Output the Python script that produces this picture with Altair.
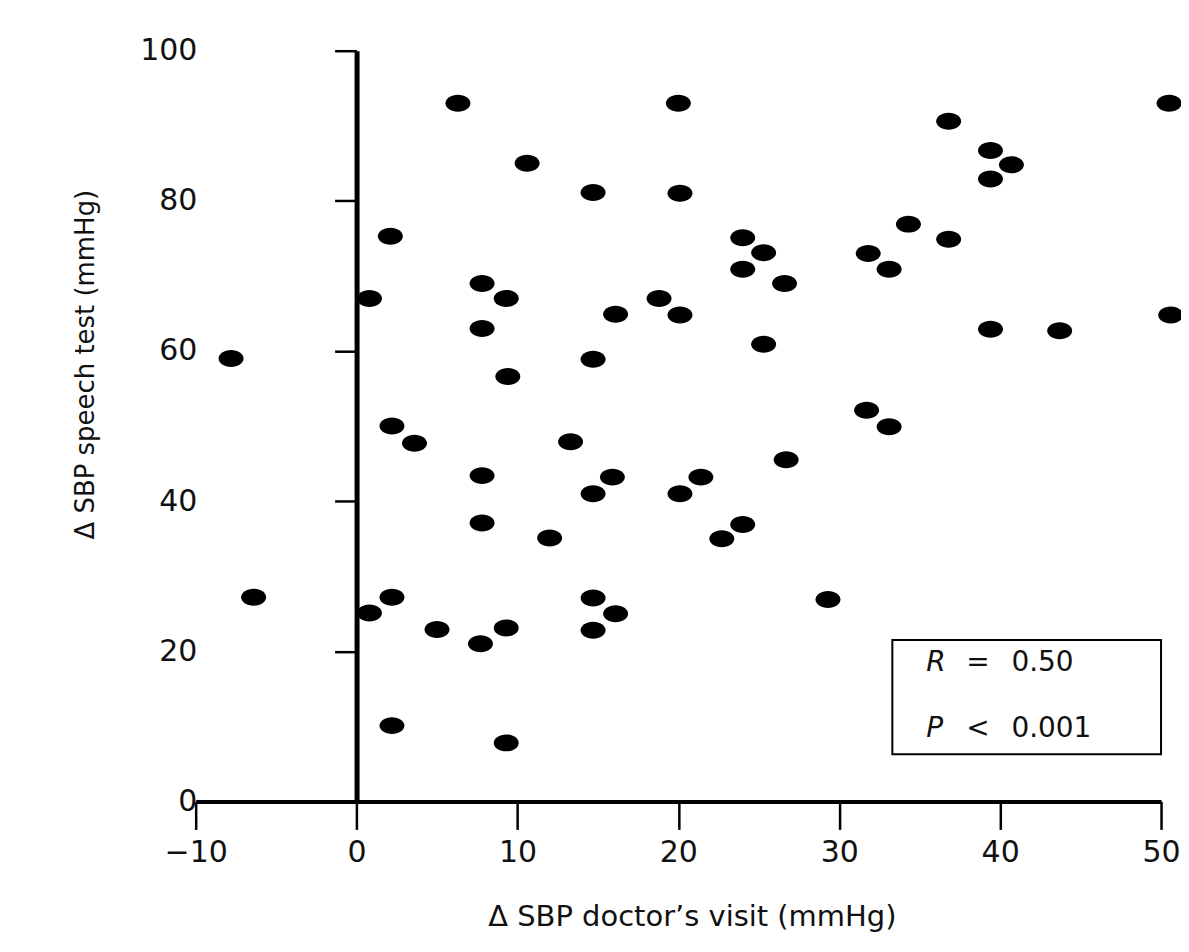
import altair as alt
import pandas as pd

# Δ SBP doctor's visit (mmHg)
doctor = [6.3, 20.0, 50.5, 36.8, 10.6, 39.4, 40.7, 39.4, 14.7, 20.1,
          34.3, 2.1, 24.0, 36.8, 25.3, 24.0, 31.8, 33.1, 26.6, 0.8,
          7.8, 9.3, 18.8, 16.1, 20.1, 7.8, 25.3, 39.4, 43.7, 50.6,
          -7.8, 9.4, 14.7, 2.2, 3.6, 13.3, 31.7, 33.1, 7.8, 26.7,
          15.9, 14.7, 21.4, 20.1, 7.8, 12.0, 24.0, 22.7, -6.4, 2.2,
          14.7, 29.3, 0.8, 5.0, 9.3, 14.7, 16.1, 7.7, 2.2, 9.3]
# Δ SBP speech test (mmHg)
speech = [93.0, 93.0, 93.0, 90.6, 85.0, 86.7, 84.8, 82.9, 81.1, 81.0,
          76.9, 75.3, 75.1, 74.9, 73.1, 70.9, 73.0, 70.9, 69.0, 67.0,
          69.0, 67.0, 67.0, 64.9, 64.8, 63.0, 60.9, 62.9, 62.7, 64.8,
          59.0, 56.6, 58.9, 50.0, 47.7, 47.9, 52.1, 49.9, 43.4, 45.5,
          43.2, 41.0, 43.2, 41.0, 37.1, 35.1, 36.9, 35.0, 27.2, 27.2,
          27.1, 26.9, 25.1, 22.9, 23.1, 22.8, 25.0, 21.0, 10.1, 7.8]

x_ticks = [-10, 0, 10, 20, 30, 40, 50]
y_ticks = [0, 20, 40, 60, 80, 100]

# annotation box with statistics
box = pd.DataFrame({"x1": [33.3], "x2": [50.0], "y1": [6.3], "y2": [21.5]})
ann_letter = ["R", "P"]
ann_rest = ["=", "0.50", "<", "0.001"]
letter_x = [35.4, 35.4]
letter_y = [18.5, 9.6]
rest_x = [37.9, 40.7, 37.9, 40.7]
rest_y = [18.5, 18.5, 9.6, 9.6]

df = pd.DataFrame({"doctor": doctor, "speech": speech})
ann_l = pd.DataFrame({"t": ann_letter, "x": letter_x, "y": letter_y})
ann_r = pd.DataFrame({"t": ann_rest, "x": rest_x, "y": rest_y})

W, H = 967, 752
FONT = "DejaVu Sans"
y_offset = -W * 10 / 60  # put the y axis at x = 0

xscale = alt.Scale(domain=[-10, 50], nice=False, zero=False)
yscale = alt.Scale(domain=[0, 100], nice=False, zero=False)

ellipse = "M -1 0 A 1 0.68 0 1 0 1 0 A 1 0.68 0 1 0 -1 0 Z"

points = alt.Chart(df).mark_point(
    shape=ellipse, filled=True, color="black", opacity=1, size=625, clip=False
).encode(
    x=alt.X("doctor:Q", scale=xscale, axis=alt.Axis(
        values=x_ticks, title="Δ SBP doctor’s visit (mmHg)", grid=False,
        domainColor="black", domainWidth=4, tickColor="black", tickWidth=2.5,
        tickSize=28, labelFont=FONT, labelFontSize=30, labelColor="#111",
        labelPadding=8, labelFlush=False,
        titleFont=FONT, titleFontSize=29, titleFontWeight="normal",
        titleColor="#111", titleBaseline="middle", titleX=497, titleY=115,
    )),
    y=alt.Y("speech:Q", scale=yscale, axis=alt.Axis(
        values=y_ticks, title="Δ SBP speech test (mmHg)", grid=False,
        offset=y_offset, domainColor="black", domainWidth=5,
        tickColor="black", tickWidth=2.5, tickSize=22,
        labelFont=FONT, labelFontSize=30, labelColor="#111",
        labelPadding=138, labelFlush=False,
        titleFont=FONT, titleFontSize=26, titleFontWeight="normal",
        titleColor="#111", titleBaseline="middle", titleAngle=-90,
        titleX=-272, titleY=314,
    )),
)

rect = alt.Chart(box).mark_rect(
    fill="white", stroke="black", strokeWidth=2
).encode(
    x=alt.X("x1:Q", scale=xscale), x2="x2:Q",
    y=alt.Y("y1:Q", scale=yscale), y2="y2:Q",
)

letters = alt.Chart(ann_l).mark_text(
    align="left", baseline="middle", font=FONT, fontSize=28,
    fontStyle="italic", color="#111"
).encode(
    x=alt.X("x:Q", scale=xscale),
    y=alt.Y("y:Q", scale=yscale),
    text="t:N",
)

rest = alt.Chart(ann_r).mark_text(
    align="left", baseline="middle", font=FONT, fontSize=28, color="#111"
).encode(
    x=alt.X("x:Q", scale=xscale),
    y=alt.Y("y:Q", scale=yscale),
    text="t:N",
)

chart = alt.layer(points, rect, letters, rest).properties(
    width=W, height=H,
    autosize=alt.AutoSizeParams(type="none"),
    padding={"left": 188, "top": 42, "right": 20, "bottom": 130},
    background="white",
).configure_view(stroke=None)

chart.save("out.html", embed_options={"renderer": "svg", "actions": False})
